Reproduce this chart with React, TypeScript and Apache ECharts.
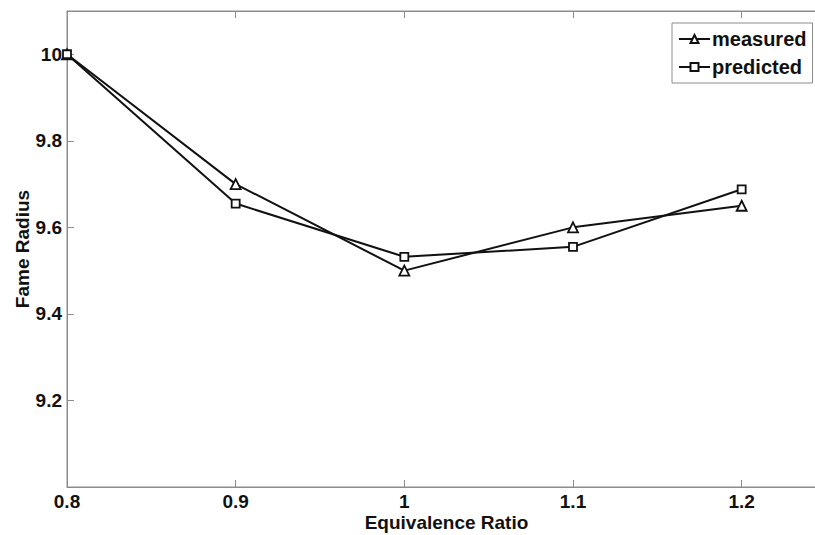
import React, { useEffect, useRef } from "react";
import * as echarts from "echarts";

const ratios = [0.8, 0.9, 1.0, 1.1, 1.2];
const measured = [10.0, 9.7, 9.5, 9.6, 9.65];
const predicted = [10.0, 9.655, 9.532, 9.555, 9.688];
const xTickLabels = ["0.8", "0.9", "1", "1.1", "1.2"];
const yTickLabels = ["9.2", "9.4", "9.6", "9.8", "10"];

const FONT = "'Liberation Sans', Arial, Helvetica, sans-serif";

export default function App() {
  const ref = useRef<HTMLDivElement>(null);
  useEffect(() => {
    if (!ref.current) return;
    document.body.style.overflow = "hidden";
    const chart = echarts.init(ref.current, null, { renderer: "svg" });
    const fmt = (list: string[]) => (v: number) => {
      const s = String(parseFloat(v.toFixed(4)));
      return list.includes(s) ? s : "";
    };
    const axisColor = "#8c8c8c";
    const labelStyle = {
      color: "#111",
      fontFamily: FONT,
      fontWeight: "bold" as const,
      fontSize: 19,
    };
    chart.setOption({
      animation: false,
      backgroundColor: "#ffffff",
      grid: {
        left: 67,
        top: 11,
        right: 14,
        bottom: 48,
        outerBoundsMode: "none",
        show: true,
        borderColor: axisColor,
        borderWidth: 1,
      },
      legend: {
        left: 672,
        top: 23,
        orient: "vertical",
        padding: [6, 6, 6, 6],
        itemGap: 8,
        itemWidth: 31,
        itemHeight: 10,
        backgroundColor: "#fff",
        borderColor: axisColor,
        borderWidth: 1,
        textStyle: { ...labelStyle, fontSize: 20, lineHeight: 20, padding: [0, 0, 0, -3] },
        data: ["measured", "predicted"],
      },
      xAxis: [
        {
          type: "value",
          min: 0.8,
          max: 1.25,
          interval: 0.1,
          name: "Equivalence Ratio",
          nameLocation: "middle",
          nameGap: 26,
          nameMoveOverlap: false,
          nameTextStyle: labelStyle,
          axisLine: { show: true, lineStyle: { color: axisColor } },
          axisTick: { show: true, inside: true, length: 7, lineStyle: { color: axisColor } },
          axisLabel: { ...labelStyle, margin: 5, formatter: fmt(xTickLabels) },
          splitLine: { show: false },
        },
        {
          type: "value",
          position: "top",
          min: 0.8,
          max: 1.25,
          interval: 0.1,
          axisLine: { show: true, lineStyle: { color: axisColor } },
          axisTick: { show: true, inside: true, length: 7, lineStyle: { color: axisColor } },
          axisLabel: { show: false },
          splitLine: { show: false },
        },
      ],
      yAxis: {
        type: "value",
        min: 9,
        max: 10.1,
        interval: 0.2,
        name: "Fame Radius",
        nameLocation: "middle",
        nameRotate: 90,
        nameGap: 35,
        nameMoveOverlap: false,
        nameTextStyle: labelStyle,
        axisLine: { show: true, lineStyle: { color: axisColor } },
        axisTick: { show: true, inside: true, length: 7, lineStyle: { color: axisColor } },
        axisLabel: { ...labelStyle, margin: 5, formatter: fmt(yTickLabels) },
        splitLine: { show: false },
      },
      series: [
        {
          name: "measured",
          type: "line",
          data: ratios.map((r, i) => [r, measured[i]]),
          symbol: "triangle",
          symbolSize: 10,
          lineStyle: { color: "#111", width: 2 },
          itemStyle: { color: "#fff", borderColor: "#111", borderWidth: 1.8 },
        },
        {
          name: "predicted",
          type: "line",
          data: ratios.map((r, i) => [r, predicted[i]]),
          symbol: "rect",
          symbolSize: 8,
          lineStyle: { color: "#111", width: 2 },
          itemStyle: { color: "#fff", borderColor: "#111", borderWidth: 1.8 },
        },
      ],
    });
    return () => chart.dispose();
  }, []);
  return (
    <div
      ref={ref}
      style={{ position: "fixed", left: 0, top: 0, width: 840, height: 535, background: "#fff" }}
    />
  );
}
